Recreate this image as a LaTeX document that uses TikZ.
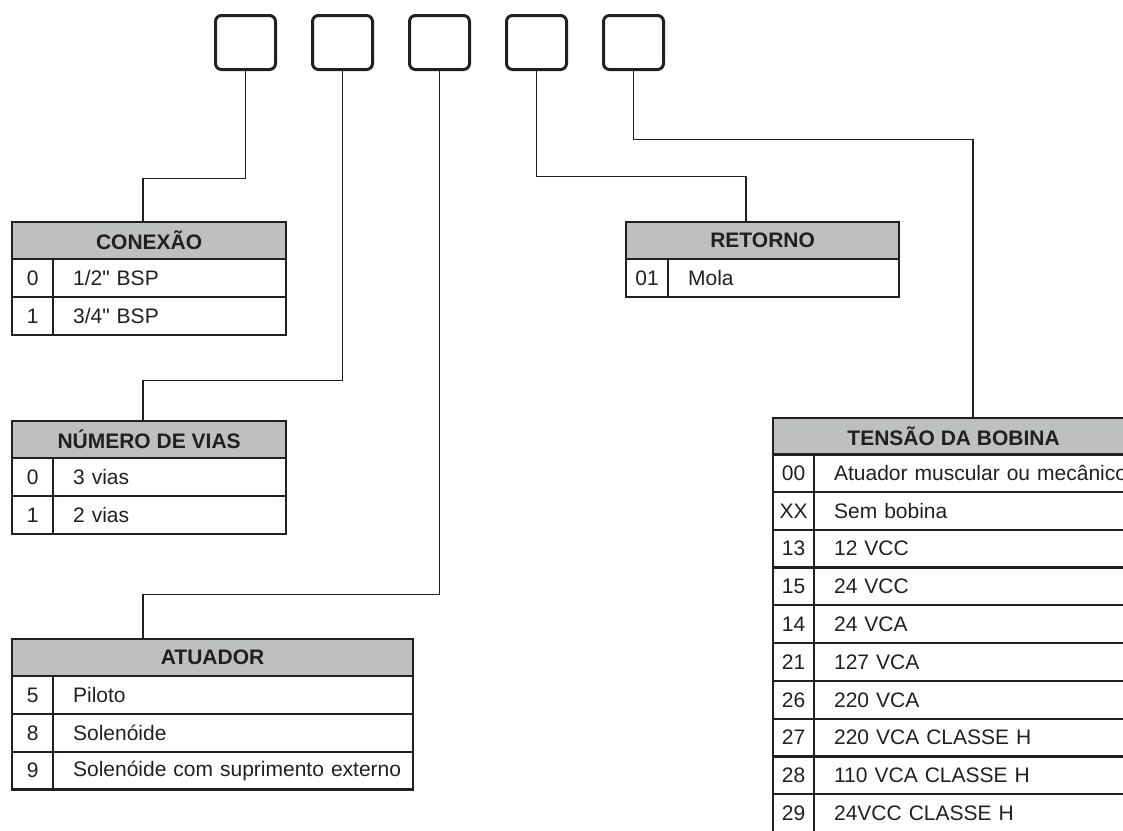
\documentclass[tikz,border=0pt]{standalone}
\usepackage{fontspec}
\newfontfamily\arialish{Liberation Sans}
\usetikzlibrary{positioning, calc}

\definecolor{headgray}{RGB}{190,191,193}
\definecolor{ink}{RGB}{35,31,32}

\tikzset{
  digitbox/.style={draw=ink, line width=3pt, rounded corners=6pt,
    minimum width=60pt, minimum height=54pt},
  tabhead/.style={draw=ink, line width=2.2pt, fill=headgray, anchor=north west,
    minimum height=37pt, inner sep=0pt,
    font=\arialish\fontsize{21pt}{25pt}\selectfont\bfseries},
  numcell/.style={draw=ink, line width=2.2pt, anchor=north west,
    minimum width=41pt, minimum height=37.8pt, inner sep=0pt},
  txtcell/.style={draw=ink, line width=2.2pt, anchor=north west,
    minimum height=37.8pt, inner xsep=20pt, inner ysep=0pt, align=left},
  link/.style={draw=ink, line width=1.8pt},
}

\begin{document}
\begin{tikzpicture}[x=1pt, y=-1pt, font=\arialish\fontsize{21pt}{25pt}\selectfont, text=ink]
\useasboundingbox (0,0) rectangle (1123,830);
\clip (0,0) rectangle (1123,830);

% caixas do código
\foreach \i in {1,...,5}
  \node[digitbox] (b\i) at ({245.5+97*(\i-1)}, 42.5) {};

% conexão
\node[tabhead, minimum width=274pt] (hcon) at (11,221) {CONEXÃO};
\foreach \n/\t [count=\i from 0] in {0/{1/2" BSP}, 1/{3/4" BSP}} {
  \node[numcell] (con-n\i) at (11, 258+37.8*\i) {\n};
  \node[txtcell, text width=193pt] (con-t\i) at (52, 258+37.8*\i) {\mbox{\t}};
}

% número de vias
\node[tabhead, minimum width=274pt] (hvias) at (11,420) {NÚMERO DE VIAS};
\foreach \n/\t [count=\i from 0] in {0/3 vias, 1/2 vias} {
  \node[numcell] (vias-n\i) at (11, 457+37.8*\i) {\n};
  \node[txtcell, text width=193pt] (vias-t\i) at (52, 457+37.8*\i) {\mbox{\t}};
}

% atuador
\node[tabhead, minimum width=401pt] (hatu) at (11,638) {ATUADOR};
\foreach \n/\t [count=\i from 0] in {5/Piloto, 8/Solenóide, 9/Solenóide com suprimento externo} {
  \node[numcell] (atu-n\i) at (11, 675+37.8*\i) {\n};
  \node[txtcell, text width=320pt] (atu-t\i) at (52, 675+37.8*\i) {\mbox{\t}};
}

% retorno
\node[tabhead, minimum width=273pt] (hret) at (625,221) {RETORNO};
\node[numcell, minimum width=42pt] (ret-n0) at (625,258) {01};
\node[txtcell, text width=191pt] (ret-t0) at (667,258) {Mola};

% tensão da bobina
\node[tabhead, minimum width=361pt] (hbob) at (772,417) {TENSÃO DA BOBINA};
\foreach \n/\t [count=\i from 0] in {00/Atuador muscular ou mecânico, XX/Sem bobina,
    13/12 VCC, 15/24 VCC, 14/24 VCA, 21/127 VCA, 26/220 VCA,
    27/220 VCA CLASSE H, 28/110 VCA CLASSE H, 29/24VCC CLASSE H} {
  \node[numcell] (bob-n\i) at (772, 453+37.8*\i) {\n};
  \node[txtcell, text width=300pt] (bob-t\i) at (813, 453+37.8*\i) {\mbox{\t}};
}

% ligações
\draw[link] (b1.south) -- ++(0,107.5) -| ([xshift=132pt]hcon.north west);
\draw[link] (b2.south) -- ++(0,309.5) -| ([xshift=132pt]hvias.north west);
\draw[link] (b3.south) -- ++(0,523.5) -| ([xshift=132pt]hatu.north west);
\draw[link] (b4.south) -- ++(0,105.5) -| ([xshift=121pt]hret.north west);
\draw[link] (b5.south) -- ++(0,68.5) -| ([xshift=201pt]hbob.north west);
\end{tikzpicture}
\end{document}
